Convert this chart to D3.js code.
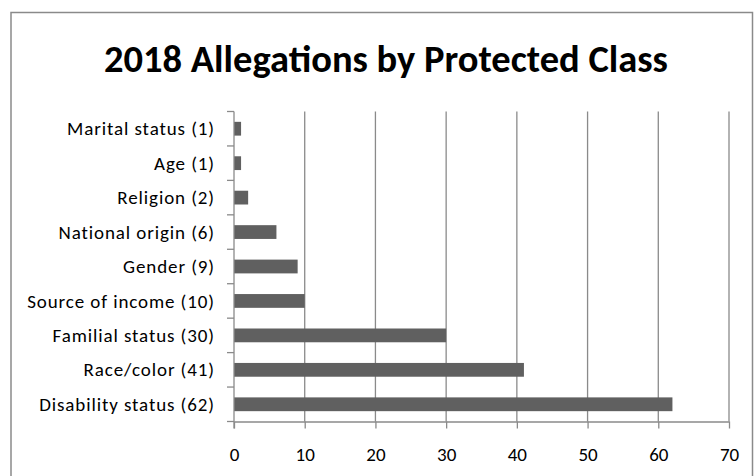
<!DOCTYPE html>
<html>
<head>
<meta charset="utf-8">
<script src="https://cdn.jsdelivr.net/npm/d3@7"></script>
<style>
  body { margin: 0; background: #fff; }
  text { font-family: Carlito, Calibri, Lato, sans-serif; fill: #000; }
</style>
</head>
<body>
<script>
var width = 754,
    height = 476;

var categories = ["Marital status (1)", "Age (1)", "Religion (2)", "National origin (6)",
    "Gender (9)", "Source of income (10)", "Familial status (30)", "Race/color (41)",
    "Disability status (62)"];
var allegations = [1, 1, 2, 6, 9, 10, 30, 41, 62];
var xTicks = [0, 10, 20, 30, 40, 50, 60, 70];

var margin = {left: 234, right: 25, top: 111.5, bottom: 54.5};

var svg = d3.select('body').append('svg')
    .attr('width', width)
    .attr('height', height);

// outer chart border (bottom edge runs off the picture)
svg.append('rect')
    .attr('x', 11).attr('y', 12.5)
    .attr('width', 741.5).attr('height', 480)
    .attr('fill', 'none')
    .attr('stroke', '#8a8a8a')
    .attr('stroke-width', 1.5);

svg.append('text')
    .attr('x', 386)
    .attr('y', 72)
    .attr('text-anchor', 'middle')
    .style('font-size', '38.5px')
    .style('font-weight', 'bold')
    .text('2018 Allegations by Protected Class');

var x = d3.scaleLinear()
    .domain([0, 70])
    .range([margin.left, width - margin.right]);

var y = d3.scaleBand()
    .domain(categories)
    .range([margin.top, height - margin.bottom])
    .paddingInner(0.6)
    .paddingOuter(0.3);

var plotTop = margin.top, plotBottom = height - margin.bottom;

/* vertical gridlines */
svg.append('g')
  .selectAll('line')
  .data(xTicks.slice(1))
  .enter().append('line')
    .attr('x1', function(d) { return x(d); })
    .attr('x2', function(d) { return x(d); })
    .attr('y1', plotTop)
    .attr('y2', plotBottom)
    .attr('stroke', '#8a8a8a')
    .attr('stroke-width', 1.3);

svg.selectAll('rect.bar')
    .data(allegations)
  .enter().append('rect')
    .attr('class', 'bar')
    .attr('x', x(0))
    .attr('y', function(d, i) { return y(categories[i]); })
    .attr('width', function(d) { return x(d) - x(0); })
    .attr('height', y.bandwidth())
    .attr('fill', '#606060');

// x axis
var xAxis = svg.append('g')
    .attr('transform', 'translate(0,' + plotBottom + ')')
    .call(d3.axisBottom(x).tickValues(xTicks).tickSize(7).tickPadding(19).tickSizeOuter(0));
xAxis.select('.domain').attr('stroke', '#8a8a8a').attr('stroke-width', 1.3);
xAxis.selectAll('.tick line').attr('stroke', '#8a8a8a').attr('stroke-width', 1.3);
xAxis.selectAll('.tick text')
    .style('font-size', '19px')
    .style('font-family', 'Carlito, Calibri, Lato, sans-serif')
    .attr('fill', '#000');

// y axis, ticks sit on the band boundaries
var step = y.step();
var bounds = d3.range(categories.length + 1).map(function(i) { return plotTop + i * step; });

var yAxis = svg.append('g');
yAxis.append('line')
    .attr('x1', x(0)).attr('x2', x(0))
    .attr('y1', plotTop).attr('y2', plotBottom + 7)
    .attr('stroke', '#8a8a8a').attr('stroke-width', 1.3);
yAxis.selectAll('line.tick')
    .data(bounds)
  .enter().append('line')
    .attr('class', 'tick')
    .attr('x1', x(0) - 7).attr('x2', x(0))
    .attr('y1', function(d) { return d; })
    .attr('y2', function(d) { return d; })
    .attr('stroke', '#8a8a8a').attr('stroke-width', 1.3);
yAxis.selectAll('text')
    .data(categories)
  .enter().append('text')
    .attr('x', x(0) - 19)
    .attr('y', function(d) { return y(d) + y.bandwidth() / 2; })
    .attr('dy', '0.35em')
    .attr('text-anchor', 'end')
    .style('font-size', '19px')
    .style('letter-spacing', '0.9px')
    .text(function(d) { return d; });
</script>
</body>
</html>
